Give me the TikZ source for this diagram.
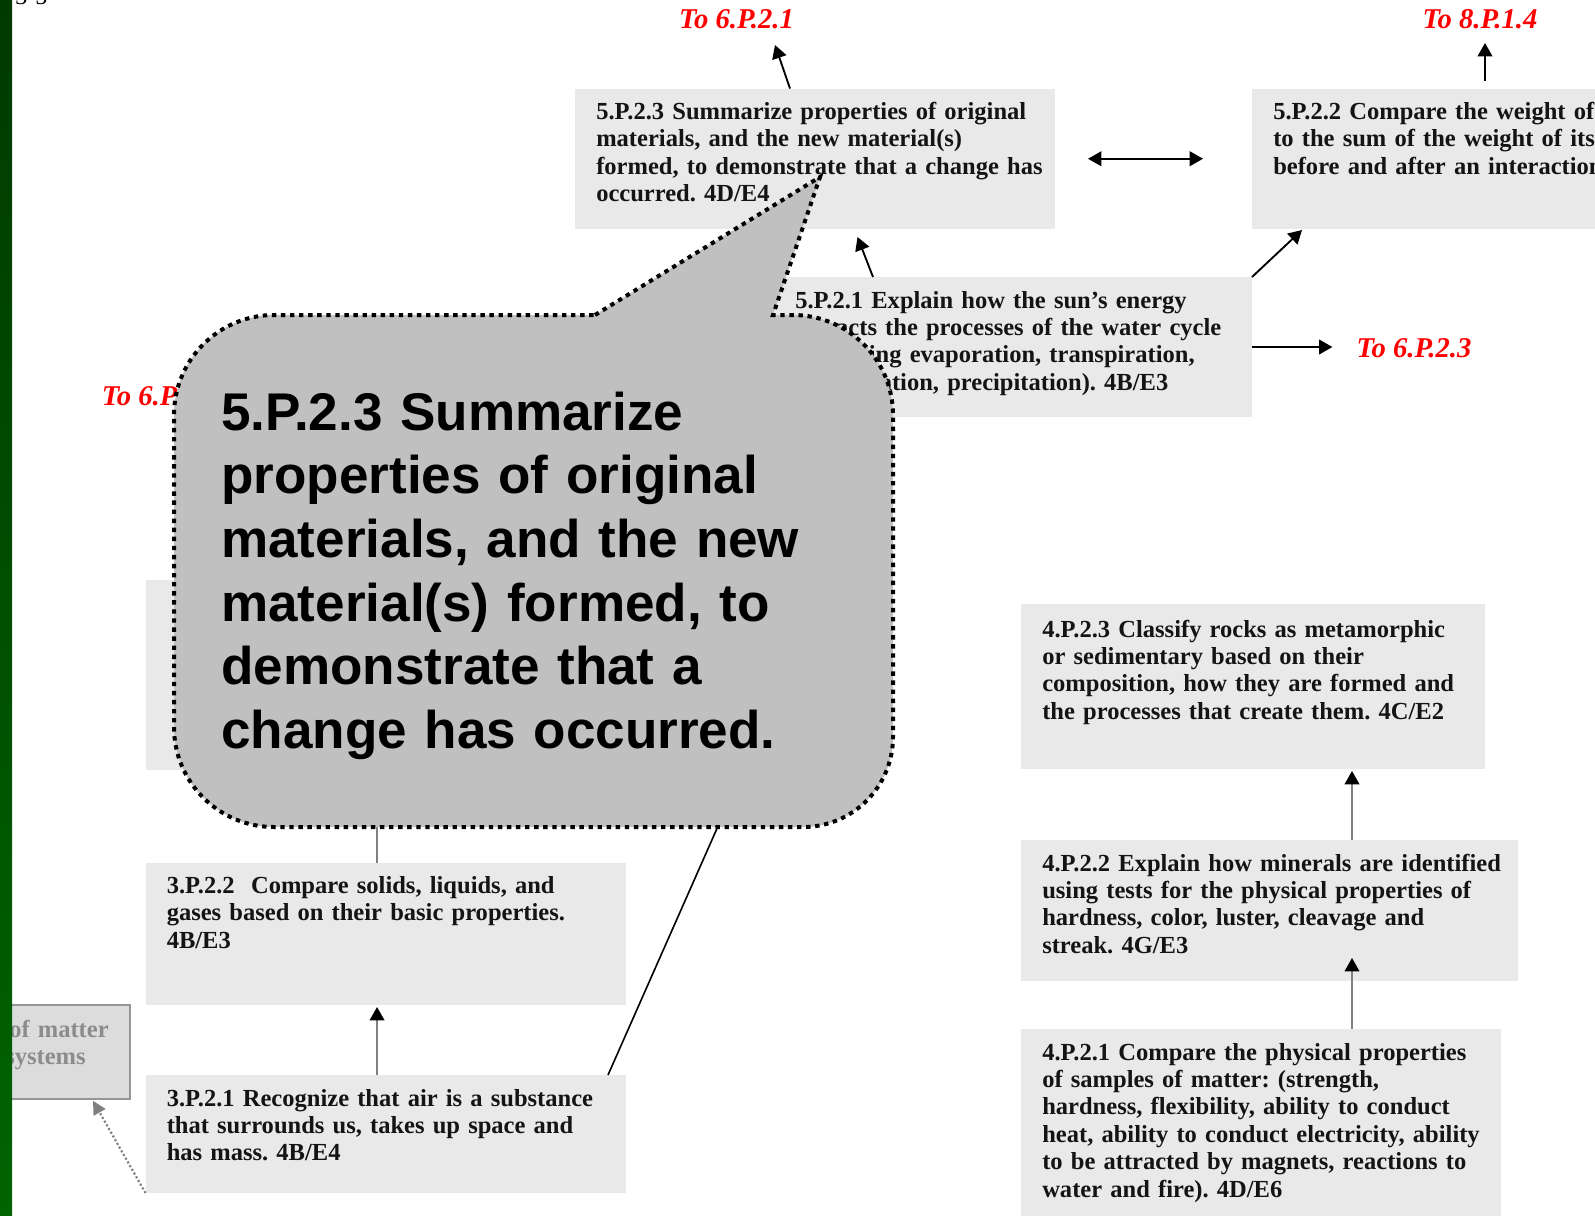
\documentclass[tikz,border=0pt]{standalone}
\usepackage{fontspec}
\setmainfont{Liberation Serif}
\newfontfamily\calloutfont{Liberation Sans}
\usetikzlibrary{arrows.meta,fit}
\definecolor{boxgray}{RGB}{233,233,233}
\definecolor{callgray}{RGB}{192,192,192}
\definecolor{midgray}{RGB}{128,128,128}
\definecolor{textblack}{RGB}{20,20,20}
\definecolor{dkgreen}{RGB}{0,58,0}
\definecolor{ltgreen}{RGB}{0,100,0}
\definecolor{gboxfill}{RGB}{220,220,220}
\definecolor{gboxdraw}{RGB}{150,150,150}
\definecolor{gboxtext}{RGB}{140,140,140}
\frenchspacing
\begin{document}
\begin{tikzpicture}[x=0.75pt,y=-0.75pt,
  stdbox/.style={fill=boxgray,draw=none,inner sep=0pt,outer sep=0pt},
  boxtext/.style={anchor=base west,inner sep=0pt,align=left,text width=450pt,text=textblack,
    font=\frenchspacing\bfseries\fontsize{18.4}{20.6}\selectfont},
  linklabel/.style={text=red,font=\bfseries\itshape\fontsize{21.5}{24}\selectfont,inner sep=1pt},
  blkarrow/.style={draw=black,line width=1.4pt,-{Triangle[length=10pt,width=11pt]}},
  grayarrow/.style={draw=midgray,line width=1.3pt,-{Triangle[length=10pt,width=11pt,color=black]}},
  callout/.style={fill=callgray,draw=black,line width=3pt,dash pattern=on 3.3pt off 3.5pt},
]
\clip (0,0) rectangle (1595,1215);
\fill[white] (0,0) rectangle (1595,1215);

% fragment of page header
\node[anchor=base west,inner sep=0pt,font=\fontsize{18}{20}\selectfont] (hdr) at (15,4.5) {3-5};

% boxes
\node[stdbox,fit={(575,88.5) (1055,229)}] (p523) {};
\node[stdbox,fit={(1252,88.5) (1640,229)}] (p522) {};
\node[stdbox,fit={(775,277) (1252,417)}] (p521) {};
\node[stdbox,fit={(145.5,580) (625.6,770)}] (p323) {};
\node[stdbox,fit={(145.5,862.5) (625.6,1005)}] (p322) {};
\node[stdbox,fit={(145.5,1075) (625.6,1193)}] (p321) {};
\node[stdbox,fit={(1021,604) (1485,769)}] (p423) {};
\node[stdbox,fit={(1021,840) (1518,981)}] (p422) {};
\node[stdbox,fit={(1021,1029) (1501,1240)}] (p421) {};
\node[fill=gboxfill,draw=gboxdraw,line width=1.2pt,inner sep=0pt,fit={(-20,1005) (130,1099)}] (gbox) {};

% box texts
\node[boxtext] (t523) at ([shift={(21,31)}]p523.north west)
 {5.P.2.3 Summarize properties of original\\materials, and the new material(s)\\formed, to demonstrate that a change has\\occurred. 4D/E4};
\node[boxtext] (t522) at ([shift={(21,31)}]p522.north west)
 {5.P.2.2 Compare the weight of an object\\to the sum of the weight of its parts\\before and after an interaction.};
\node[boxtext] (t521) at ([shift={(20,31)}]p521.north west)
 {5.P.2.1 Explain how the sun’s energy\\impacts the processes of the water cycle\\(including evaporation, transpiration,\\condensation, precipitation). 4B/E3};
\node[boxtext] (t322) at ([shift={(21,31)}]p322.north west)
 {3.P.2.2\ \ Compare solids, liquids, and\\gases based on their basic properties.\\4B/E3};
\node[boxtext] (t321) at ([shift={(21,31)}]p321.north west)
 {3.P.2.1 Recognize that air is a substance\\that surrounds us, takes up space and\\has mass. 4B/E4};
\node[boxtext] (t423) at ([shift={(21,33)}]p423.north west)
 {4.P.2.3 Classify rocks as metamorphic\\or sedimentary based on their\\composition, how they are formed and\\the processes that create them. 4C/E2};
\node[boxtext] (t422) at ([shift={(21,31)}]p422.north west)
 {4.P.2.2 Explain how minerals are identified\\using tests for the physical properties of\\hardness, color, luster, cleavage and\\streak. 4G/E3};
\node[boxtext] (t421) at ([shift={(21,31)}]p421.north west)
 {4.P.2.1 Compare the physical properties\\of samples of matter: (strength,\\hardness, flexibility, ability to conduct\\heat, ability to conduct electricity, ability\\to be attracted by magnets, reactions to\\water and fire). 4D/E6};
\node[boxtext,text=gboxtext] (tg1) at (9,1037) {of matter};
\node[boxtext,text=gboxtext] (tg2) at (5,1064) {systems};

% link labels
\node[linklabel] (to621) at (736.5,19.5) {To 6.P.2.1};
\node[linklabel] (to814) at (1480,19.5) {To 8.P.1.4};
\node[linklabel] (to623) at (1414,348) {To 6.P.2.3};
\node[linklabel,anchor=west,inner sep=0pt] (to622) at (101.7,396) {To 6.P.2.2};

% free ends
\coordinate (a1tip) at (775,45);
\coordinate (a3tail) at (1485,81);
\coordinate (a3tip) at (1485,43);
\coordinate (hid) at (818,600);

% connectors
\draw[blkarrow] ([shift={(-25,0)}]p523.north) -- (a1tip);
\draw[draw=black,line width=1.4pt,{Triangle[length=10pt,width=11pt]}-{Triangle[length=10pt,width=11pt]}]
  ([shift={(33,0)}]p523.east) -- ([shift={(-49,0)}]p522.west);
\draw[blkarrow] (a3tail) -- (a3tip);
\draw[blkarrow] ([shift={(-140.5,0)}]p521.north) -- ([shift={(42.5,8)}]p523.south);
\draw[blkarrow] (p521.north east) -- ([shift={(50,1)}]p522.south west);
\draw[blkarrow,shorten >=17pt] (p521.east) -- (p521.east -| to623.west);
\draw[grayarrow] ([shift={(-8.5,0)}]p322.north) -- ([shift={(-8.5,0)}]p323.south);
\draw[grayarrow] ([shift={(-8.5,0)}]p321.north) -- ([shift={(-8.5,2)}]p322.south);
\draw[draw=black,line width=1.2pt] ([shift={(-17.6,0)}]p321.north east) -- (hid);
\draw[draw=midgray,line width=1.6pt,dash pattern=on 1.6pt off 1.6pt,-{Triangle[length=10pt,width=10pt,color=midgray]}]
  (p321.south west) -- ([shift={(38,1)}]gbox.south);
\draw[grayarrow] ([shift={(82.5,0)}]p422.north) -- ([shift={(99,2)}]p423.south);
\draw[grayarrow] ([shift={(91,0)}]p421.north) -- ([shift={(82.5,-23)}]p422.south);

% callout
\draw[callout] (595,315) -- (820,177) -- (773,315) -- (793,315)
  .. controls (848.2,315) and (893,359.8) .. (893,415)
  -- (893,737)
  .. controls (893,786.7) and (852.7,827) .. (803,827)
  -- (274,827)
  .. controls (218.8,827) and (174,782.2) .. (174,727)
  -- (174,415)
  .. controls (174,359.8) and (218.8,315) .. (274,315)
  -- cycle;
\node[anchor=base west,inner sep=0pt,align=left,text width=700pt,
  font=\calloutfont\bfseries\fontsize{39.8}{47.8}\selectfont] (ctext) at (221,430)
 {5.P.2.3 Summarize\\properties of original\\materials, and the new\\material(s) formed, to\\demonstrate that a\\change has occurred.};

% green side bar
\shade[top color=dkgreen,bottom color=ltgreen] (0,0) rectangle (12,1215);
\end{tikzpicture}
\end{document}
